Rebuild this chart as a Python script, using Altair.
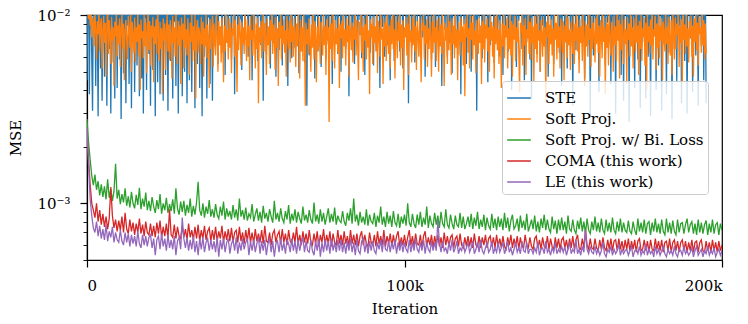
import altair as alt
import pandas as pd

# iteration step between logged points (x positions)
STEP_TOP = 250     # STE and Soft Proj. (801 points each)
STEP_LOW = 500     # the three lower curves (401 points each)

# MSE values, in units of 1e-4
ste = [45, 130, 150, 38, 118, 142, 60, 31, 125, 155, 110, 42, 137, 99, 29, 146, 120, 52, 134, 35,
       112, 158, 47, 128, 140, 33, 105, 151, 66, 122, 30, 139, 115, 56, 148, 36, 127, 160, 41, 109,
       143, 58, 124, 28, 135, 152, 49, 117, 138, 34, 129, 88, 156, 43, 113, 145, 32, 131, 72, 150,
       39, 121, 141, 54, 107, 157, 37, 133, 119, 46, 149, 30, 126, 96, 144, 40, 116, 153, 62, 132,
       33, 147, 111, 51, 138, 124, 29, 155, 103, 44, 136, 150, 38, 120, 78, 142, 35, 128, 159, 48,
       114, 139, 31, 146, 126, 57, 108, 154, 36, 132, 92, 147, 42, 118, 140, 30, 151, 123, 64, 135,
       37, 144, 110, 50, 158, 127, 34, 137, 101, 45, 149, 121, 39, 143, 82, 130, 32, 152, 116, 55,
       134, 148, 41, 125, 106, 29, 156, 138, 60, 119, 145, 36, 131, 97, 153, 43, 122, 141, 35, 128,
       150, 68, 137, 118, 146, 55, 129, 157, 102, 141, 63, 124, 153, 135, 48, 144, 116, 131, 72, 158,
       126, 139, 58, 147, 111, 155, 38, 133, 120, 149, 66, 128, 143, 95, 152, 51, 136, 122, 159, 74,
       140, 117, 148, 60, 132, 154, 107, 138, 45, 127, 151, 84, 145, 119, 134, 57, 156, 125, 142, 69,
       130, 150, 35, 139, 114, 147, 62, 123, 157, 99, 136, 52, 144, 129, 153, 71, 118, 141, 47, 155,
       127, 137, 65, 149, 110, 132, 54, 158, 121, 143, 76, 135, 152, 42, 126, 146, 90, 138, 59, 154,
       119, 140, 67, 131, 156, 104, 145, 49, 128, 150, 73, 137, 115, 155, 56, 142, 124, 33, 148, 133,
       61, 152, 118, 139, 80, 129, 157, 46, 144, 112, 134, 64, 151, 126, 141, 53, 136, 159, 98, 147,
       122, 58, 138, 154, 70, 125, 145, 108, 132, 43, 149, 120, 140, 77, 156, 130, 62, 143, 117, 151,
       50, 135, 148, 87, 128, 153, 66, 141, 116, 137, 37, 146, 124, 158, 72, 133, 150, 55, 139, 113,
       155, 68, 127, 144, 94, 136, 59, 152, 121, 147, 48, 131, 157, 79, 142, 118, 134, 63, 149, 126,
       140, 54, 156, 111, 138, 75, 145, 129, 153, 41, 135, 148, 86, 123, 158, 60, 143, 119, 132, 69,
       151, 127, 45, 139, 155, 100, 134, 57, 147, 122, 142, 74, 157, 130, 64, 145, 114, 136, 52, 153,
       125, 141, 81, 133, 150, 34, 146, 120, 138, 67, 156, 128, 144, 56, 131, 154, 92, 140, 117, 148,
       61, 137, 152, 76, 126, 159, 47, 143, 115, 135, 70, 150, 123, 146, 58, 132, 157, 103, 139, 53,
       149, 124, 141, 65, 155, 118, 136, 42, 147, 128, 153, 83, 134, 144, 60, 121, 158, 71, 138, 130,
       49, 151, 116, 142, 78, 133, 156, 62, 145, 125, 139, 38, 154, 119, 148, 89, 131, 150, 55, 137,
       143, 67, 128, 157, 50, 140, 122, 152, 73, 135, 147, 31, 126, 155, 96, 138, 116, 144, 59, 149,
       132, 81, 154, 120, 141, 44, 136, 158, 69, 127, 146, 104, 139, 56, 152, 124, 137, 75, 148, 117,
       60, 145, 133, 156, 48, 129, 142, 86, 153, 121, 138, 64, 150, 126, 144, 40, 135, 157, 77, 131,
       147, 53, 124, 151, 93, 140, 118, 155, 66, 134, 146, 45, 128, 153, 72, 139, 122, 149, 58, 143,
       36, 156, 120, 137, 80, 148, 131, 62, 154, 115, 141, 50, 133, 158, 88, 126, 145, 68, 150, 123,
       138, 47, 152, 129, 143, 74, 136, 157, 55, 125, 149, 99, 140, 119, 155, 63, 132, 146, 42, 153,
       127, 142, 71, 135, 159, 52, 144, 121, 150, 84, 130, 154, 33, 139, 117, 147, 65, 156, 128, 137,
       58, 148, 123, 141, 78, 152, 134, 46, 145, 126, 157, 69, 131, 143, 29, 151, 120, 138, 61, 155,
       132, 85, 147, 119, 140, 39, 153, 128, 136, 73, 158, 124, 144, 54, 133, 150, 91, 139, 116, 149,
       43, 137, 155, 67, 129, 146, 30, 142, 122, 152, 76, 135, 157, 48, 127, 148, 35, 141, 118, 154,
       64, 131, 145, 27, 150, 125, 139, 82, 156, 133, 41, 147, 120, 143, 58, 136, 153, 32, 128, 151,
       72, 140, 117, 155, 36, 134, 149, 60, 126, 144, 29, 152, 131, 138, 79, 157, 123, 40, 146, 135,
       54, 150, 129, 142, 31, 137, 156, 70, 121, 148, 38, 133, 154, 63, 141, 119, 152, 28, 145, 127,
       66, 155, 134, 44, 139, 151, 87, 130, 146, 34, 158, 124, 143, 57, 136, 149, 30, 140, 118, 153,
       75, 132, 147, 39, 155, 126, 141, 61, 150, 137, 33, 144, 120, 156, 68, 135, 148, 45, 129, 152,
       34]

soft_proj = [100, 108, 95, 112, 88, 104, 76, 97, 90, 68, 101, 85, 58, 93, 79, 106, 64, 89, 96, 52,
             84, 99, 71, 91, 47, 87, 110, 62, 94, 80, 55, 98, 73, 86, 42, 92, 77, 103, 60, 88,
             70, 96, 53, 85, 102, 66, 90, 45, 81, 94, 74, 58, 99, 83, 67, 107, 50, 92, 78, 63,
             97, 56, 86, 72, 104, 61, 89, 40, 95, 75, 82, 59, 100, 68, 91, 49, 84, 109, 65, 93,
             54, 88, 76, 98, 44, 87, 70, 95, 62, 113, 79, 57, 92, 66, 85, 38, 96, 73, 90, 51,
             83, 101, 64, 89, 58, 94, 77, 46, 99, 71, 86, 60, 105, 80, 55, 93, 69, 88, 43, 97,
             74, 90, 52, 102, 67, 84, 61, 96, 78, 48, 91, 72, 108, 57, 87, 65, 100, 36, 82, 94,
             63, 86, 79, 55, 98, 70, 92, 47, 85, 68, 103, 59, 89, 76, 41, 95, 66, 81, 99, 53,
             90, 73, 61, 106, 80, 50, 93, 69, 87, 56, 97, 75, 44, 88, 64, 111, 71, 84, 58, 96,
             67, 91, 49, 85, 78, 100, 60, 94, 72, 39, 89, 65, 98, 81, 54, 92, 70, 86, 62, 104,
             76, 57, 95, 68, 88, 45, 99, 74, 83, 61, 107, 79, 52, 90, 66, 97, 34, 86, 71, 93,
             59, 84, 102, 64, 91, 77, 48, 96, 69, 87, 55, 94, 73, 110, 62, 89, 80, 51, 98, 67,
             85, 42, 92, 75, 101, 58, 88, 70, 95, 63, 83, 47, 99, 78, 66, 93, 56, 105, 72, 87,
             60, 97, 81, 53, 90, 68, 103, 75, 46, 94, 64, 86, 57, 100, 79, 33, 91, 70, 84, 62,
             96, 74, 50, 89, 67, 108, 58, 93, 77, 44, 87, 65, 98, 71, 55, 92, 82, 61, 104, 69,
             88, 48, 95, 73, 86, 27, 99, 66, 90, 57, 102, 78, 52, 94, 70, 85, 63, 97, 41, 89,
             75, 93, 59, 106, 68, 84, 54, 96, 72, 88, 47, 100, 80, 65, 91, 56, 87, 74, 109, 61,
             94, 69, 45, 92, 78, 101, 63, 86, 50, 97, 73, 89, 58, 104, 67, 83, 38, 95, 76, 90,
             55, 98, 71, 87, 64, 107, 49, 93, 79, 60, 100, 74, 85, 43, 96, 68, 91, 57, 103, 77,
             62, 88, 52, 95, 70, 112, 66, 84, 46, 99, 81, 59, 92, 73, 105, 54, 89, 67, 94, 40,
             86, 76, 98, 61, 90, 48, 101, 72, 83, 56, 96, 69, 108, 64, 87, 51, 93, 79, 60, 97,
             74, 44, 91, 82, 103, 58, 88, 70, 95, 53, 85, 66, 99, 77, 47, 92, 63, 110, 71, 86,
             57, 94, 80, 50, 97, 68, 89, 62, 104, 75, 42, 91, 73, 86, 55, 100, 65, 93, 78, 48,
             96, 70, 88, 59, 106, 67, 84, 45, 92, 79, 61, 98, 72, 87, 54, 95, 37, 90, 76, 101,
             63, 85, 52, 99, 74, 91, 58, 108, 69, 83, 49, 94, 77, 62, 97, 71, 88, 43, 93, 66,
             102, 56, 89, 75, 96, 64, 86, 50, 100, 73, 92, 60, 87, 46, 98, 70, 111, 65, 84, 55,
             94, 78, 41, 90, 68, 103, 59, 88, 76, 97, 52, 85, 66, 107, 61, 93, 47, 89, 74, 99,
             57, 86, 72, 95, 63, 39, 91, 80, 101, 54, 88, 69, 96, 48, 84, 75, 105, 62, 92, 58,
             97, 71, 87, 44, 99, 66, 90, 56, 109, 73, 83, 50, 94, 79, 60, 98, 68, 86, 35, 92,
             76, 102, 55, 89, 70, 95, 61, 85, 47, 100, 74, 91, 58, 106, 67, 87, 52, 96, 78, 63,
             93, 45, 88, 72, 104, 59, 97, 69, 84, 51, 92, 77, 62, 99, 55, 90, 73, 110, 64, 86,
             49, 95, 71, 87, 57, 101, 76, 42, 93, 68, 89, 60, 105, 74, 85, 53, 98, 66, 91, 79,
             56, 96, 70, 112, 63, 88, 47, 94, 80, 59, 100, 72, 86, 38, 97, 67, 90, 54, 103, 75,
             61, 92, 83, 50, 99, 69, 87, 57, 107, 73, 94, 46, 89, 65, 101, 78, 55, 95, 70, 84,
             43, 98, 74, 90, 60, 104, 68, 86, 52, 96, 79, 63, 109, 71, 88, 48, 93, 66, 100, 57,
             85, 76, 97, 54, 91, 40, 102, 72, 87, 62, 95, 69, 106, 58, 84, 77, 99, 51, 90, 67,
             103, 59, 88, 73, 96, 45, 92, 80, 64, 108, 70, 86, 55, 98, 75, 61, 94, 48, 101, 83,
             58, 97, 66, 90, 78, 111, 53, 87, 71, 95, 44, 100, 74, 89, 62, 105, 68, 85, 56, 93,
             76, 99, 60, 88, 47, 96, 72, 104, 65, 91, 54, 98, 79, 86, 63, 107, 69, 94, 58, 90,
             62]

soft_proj_bi = [28, 21, 17, 14, 12.5, 14.2, 11.8, 13.1, 11.0, 12.6, 10.8, 12.3, 10.5, 13.4, 10.7, 11.9, 10.3, 11.6, 16.2, 10.6,
                11.8, 9.9, 11.2, 10.1, 12.0, 9.7, 10.9, 9.5, 11.5, 10.0, 9.4, 11.1, 9.8, 12.1, 9.3, 10.6, 9.6, 11.4, 9.2, 10.3,
                9.1, 10.8, 9.6, 8.9, 10.4, 9.3, 11.2, 8.8, 10.0, 9.2, 10.7, 8.9, 9.9, 9.1, 10.5, 8.8, 12.0, 9.4, 8.7, 10.2,
                9.0, 10.3, 8.6, 9.8, 8.9, 10.6, 8.5, 9.7, 8.7, 10.1, 13.0, 9.2, 8.6, 10.0, 8.4, 9.6, 8.8, 10.4, 8.5, 9.3,
                8.4, 9.9, 8.7, 8.3, 9.6, 8.6, 10.2, 8.2, 9.4, 8.5, 9.1, 8.2, 9.8, 8.4, 9.3, 8.1, 10.6, 8.5, 9.2, 8.2,
                9.5, 8.1, 8.8, 8.4, 9.9, 8.0, 8.7, 9.4, 8.1, 9.0, 7.9, 9.7, 8.3, 8.9, 8.0, 9.3, 8.5, 7.9, 10.3, 8.2,
                8.9, 8.0, 9.4, 8.3, 7.9, 9.1, 8.2, 9.8, 7.8, 8.8, 8.1, 9.3, 7.9, 9.0, 8.3, 7.8, 9.6, 8.1, 8.7, 7.9,
                9.2, 8.2, 7.8, 10.1, 8.0, 8.7, 7.8, 9.3, 8.0, 8.9, 7.7, 8.5, 9.4, 7.9, 8.8, 8.0, 9.5, 7.7, 8.6, 8.1,
                7.9, 9.1, 8.0, 7.6, 8.9, 8.1, 9.4, 7.8, 10.6, 8.0, 8.7, 7.6, 9.0, 7.9, 8.5, 7.7, 9.3, 7.6, 8.7, 8.0,
                7.8, 8.9, 7.5, 8.6, 7.9, 9.6, 7.7, 8.5, 7.5, 9.0, 7.8, 8.6, 7.5, 9.1, 7.9, 7.6, 8.8, 7.4, 8.5, 7.8,
                8.7, 7.6, 10.0, 7.9, 7.5, 8.8, 7.8, 7.4, 8.7, 7.7, 9.0, 7.5, 8.4, 7.7, 9.6, 7.4, 8.6, 7.8, 7.5, 8.9,
                7.7, 8.6, 7.4, 9.0, 7.8, 7.5, 9.3, 7.7, 7.4, 8.7, 7.8, 7.3, 8.6, 7.7, 7.5, 8.9, 7.4, 8.5, 7.3, 7.8,
                8.5, 7.5, 8.8, 7.3, 8.4, 7.6, 9.0, 7.3, 8.2, 7.5, 8.7, 7.2, 8.4, 7.6, 7.3, 8.8, 7.4, 8.3, 7.2, 8.5,
                7.5, 8.3, 7.2, 8.9, 7.4, 8.4, 7.1, 8.1, 8.7, 7.3, 7.6, 8.3, 7.1, 8.6, 7.4, 8.1, 7.2, 8.8, 7.1, 7.6,
                8.2, 7.3, 8.6, 7.1, 8.0, 7.0, 8.3, 7.4, 8.7, 7.2, 8.2, 7.3, 7.0, 8.5, 7.3, 8.1, 6.9, 8.2, 7.2, 8.4,
                7.2, 8.0, 6.9, 8.6, 7.3, 7.1, 8.2, 7.2, 6.9, 8.1, 7.3, 8.4, 7.1, 8.0, 6.9, 8.3, 7.2, 6.9, 8.0, 7.2,
                8.5, 7.1, 7.9, 7.0, 8.3, 7.2, 6.9, 8.2, 7.1, 7.9, 7.0, 8.4, 7.2, 6.9, 8.0, 7.1, 8.3, 7.0, 7.9, 7.2,
                7.0, 8.1, 7.1, 6.9, 8.0, 7.2, 6.8, 8.3, 7.1, 7.9, 7.0, 8.2, 6.9, 7.8, 8.0, 6.8, 7.9, 7.1, 8.3, 7.0,
                7.8, 6.9, 8.2, 7.1, 6.8, 8.3, 7.0, 7.9, 6.9, 8.1, 7.1, 6.8, 8.2, 7.0, 7.8, 7.9, 6.9, 7.7, 8.3, 7.0,
                7.7, 8.0, 6.9, 7.8, 6.8, 8.2, 7.0, 7.9, 6.9, 7.7, 8.1, 6.8, 7.8, 7.0, 8.2, 6.9, 7.7, 7.9, 6.8, 7.8,
                7.2]

coma = [24, 17, 12.5, 10, 9.2, 8.4, 10.0, 8.0, 9.2, 7.7, 8.8, 7.5, 8.5, 7.3, 8.3, 12.2, 8.6, 7.4, 8.2, 7.1,
        8.1, 7.2, 8.5, 7.0, 8.9, 7.3, 6.9, 8.2, 7.1, 7.9, 6.8, 7.8, 7.0, 8.3, 6.9, 7.7, 6.7, 8.0, 7.0, 6.8,
        7.8, 6.7, 7.6, 6.6, 7.9, 6.9, 8.1, 6.6, 7.5, 6.7, 7.8, 6.5, 9.3, 6.8, 6.6, 7.7, 6.5, 7.5, 6.7, 6.5,
        7.6, 6.6, 7.3, 6.4, 7.8, 6.6, 7.2, 6.4, 7.5, 6.5, 7.7, 6.3, 7.2, 6.5, 7.6, 6.4, 7.1, 7.4, 6.3, 7.2,
        6.4, 7.5, 6.3, 7.1, 6.5, 7.6, 6.2, 7.1, 6.4, 7.3, 6.3, 7.4, 6.2, 7.0, 7.2, 6.2, 7.5, 6.3, 7.0, 6.1,
        7.2, 6.3, 7.4, 6.2, 7.0, 6.1, 7.3, 6.3, 6.9, 6.2, 7.2, 6.1, 7.6, 6.3, 6.2, 7.0, 6.0, 6.9, 7.2, 6.2,
        6.8, 7.1, 6.1, 7.3, 6.2, 6.9, 6.0, 7.2, 6.3, 6.1, 7.0, 6.2, 7.5, 6.1, 6.8, 6.0, 7.1, 6.2, 6.9, 6.1,
        7.2, 6.2, 6.0, 6.9, 6.1, 7.1, 5.9, 6.8, 6.2, 7.3, 6.0, 6.8, 6.1, 7.1, 5.9, 6.9, 6.2, 6.0, 7.2, 6.1,
        6.8, 6.0, 7.1, 6.1, 6.7, 5.9, 7.2, 6.1, 6.8, 6.0, 6.9, 5.9, 6.7, 7.1, 6.0, 6.8, 6.1, 5.9, 7.0, 6.2,
        6.0, 6.8, 5.9, 7.1, 6.1, 6.7, 6.0, 7.2, 5.9, 6.7, 6.1, 6.9, 5.9, 6.8, 6.0, 6.7, 7.1, 5.9, 6.6, 6.0,
        6.8, 5.9, 6.6, 7.2, 6.0, 6.7, 5.9, 6.9, 6.1, 6.0, 6.8, 5.8, 6.7, 7.1, 5.9, 6.6, 6.0, 6.8, 5.8, 6.7,
        6.0, 6.8, 5.9, 6.6, 5.8, 7.0, 6.0, 6.7, 5.9, 6.6, 6.8, 5.8, 6.5, 6.7, 5.9, 6.9, 6.0, 5.8, 6.6, 5.9,
        6.7, 5.9, 6.6, 5.8, 6.9, 6.0, 5.9, 6.7, 5.8, 6.6, 6.0, 6.8, 5.8, 6.5, 6.7, 5.9, 6.6, 5.8, 6.8, 5.9,
        6.5, 5.8, 6.7, 5.9, 5.7, 6.6, 6.0, 6.8, 5.8, 6.5, 5.9, 6.7, 5.7, 6.6, 5.9, 5.8, 6.8, 6.0, 5.8, 6.6,
        5.9, 5.7, 6.5, 6.7, 5.8, 6.4, 5.7, 6.6, 5.9, 5.8, 6.7, 5.7, 6.5, 5.9, 5.7, 6.6, 5.8, 6.5, 5.7, 6.4,
        6.6, 5.8, 6.4, 5.7, 6.5, 5.8, 6.7, 5.7, 6.4, 6.8, 5.8, 5.7, 6.5, 5.8, 7.2, 6.0, 5.7, 6.5, 5.8, 5.7,
        6.5, 5.8, 5.6, 6.4, 5.7, 6.6, 5.8, 5.6, 6.4, 5.7, 6.5, 5.6, 6.3, 6.4, 5.6, 6.5, 5.7, 6.3, 5.6, 6.4,
        5.7, 6.5, 5.6, 6.3, 5.7, 6.4, 5.5, 6.3, 6.5, 5.6, 5.7, 6.4, 5.6, 6.3, 5.5, 6.4, 5.7, 5.6, 6.5, 5.7,
        6.3, 5.6, 6.4, 5.5, 6.2, 6.3, 5.6, 6.5, 5.5, 6.2, 6.4, 5.6, 6.3, 5.5, 6.2, 6.4, 5.6, 6.3, 5.5, 6.2,
        5.6, 6.4, 5.5, 6.2, 6.3, 5.5, 6.2, 6.4, 5.6, 5.5, 6.3, 5.6, 6.2, 5.5, 6.4, 5.6, 6.2, 5.5, 6.3, 5.6,
        6.0]

le = [25, 16, 10.5, 8.6, 7.4, 7.0, 8.0, 6.7, 7.6, 6.5, 7.3, 6.4, 7.7, 6.3, 7.1, 6.6, 7.5, 6.2, 7.0, 6.4,
      6.2, 7.2, 6.3, 6.0, 7.0, 6.2, 6.9, 5.9, 6.8, 6.1, 6.7, 5.9, 7.1, 6.1, 5.8, 6.8, 6.0, 6.7, 5.9, 6.6,
      6.8, 5.8, 6.5, 5.3, 6.4, 6.7, 5.7, 6.9, 5.9, 6.5, 5.6, 6.8, 5.8, 6.4, 5.7, 6.7, 5.3, 6.3, 6.6, 5.7,
      8.4, 6.5, 5.8, 6.6, 5.6, 6.4, 5.7, 6.7, 5.5, 6.3, 5.3, 6.5, 5.7, 6.6, 5.5, 6.2, 6.5, 5.6, 6.4, 5.7,
      6.3, 5.5, 6.6, 5.2, 6.4, 5.7, 6.5, 5.5, 6.2, 6.5, 5.4, 6.1, 6.4, 5.6, 6.6, 5.4, 6.2, 5.6, 6.5, 5.7,
      6.2, 6.5, 5.3, 6.3, 5.6, 6.4, 5.5, 6.1, 6.6, 5.4, 6.3, 5.6, 6.4, 5.3, 6.1, 6.5, 5.5, 6.3, 5.2, 6.1,
      6.3, 5.5, 6.5, 5.6, 6.2, 5.4, 6.4, 6.1, 5.5, 6.5, 5.6, 6.3, 5.4, 6.4, 5.6, 6.2, 6.6, 5.5, 6.3, 5.6,
      5.5, 6.4, 5.6, 5.3, 6.3, 5.6, 6.5, 5.2, 6.2, 5.5, 6.4, 5.6, 6.3, 5.4, 6.5, 5.6, 6.2, 5.5, 6.4, 5.6,
      6.4, 5.5, 6.2, 5.4, 6.3, 5.6, 6.5, 5.5, 6.2, 5.3, 6.4, 5.6, 5.4, 6.3, 6.5, 5.5, 6.2, 5.4, 6.3, 5.6,
      6.3, 5.6, 5.4, 6.2, 5.7, 6.4, 5.5, 6.6, 5.7, 5.6, 6.3, 5.5, 6.2, 5.7, 6.4, 5.4, 6.2, 5.6, 6.3, 5.5,
      6.2, 5.7, 5.5, 6.4, 5.5, 6.2, 5.6, 6.5, 5.7, 5.5, 6.2, 5.6, 6.4, 5.4, 6.2, 5.7, 5.5, 6.3, 5.6, 6.2,
      5.6, 8.1, 6.2, 5.5, 6.3, 5.6, 5.8, 5.4, 6.2, 5.6, 6.4, 5.5, 5.8, 6.3, 5.4, 5.8, 5.6, 6.2, 5.5, 5.8,
      6.2, 5.5, 5.8, 6.3, 5.4, 5.7, 6.2, 5.5, 6.4, 5.6, 5.4, 5.8, 6.2, 5.5, 5.7, 6.3, 5.4, 5.8, 5.5, 6.2,
      5.5, 5.8, 6.2, 5.4, 5.7, 6.3, 5.5, 5.8, 5.3, 5.7, 6.2, 5.5, 5.8, 5.4, 6.3, 5.6, 5.5, 6.2, 5.4, 5.7,
      5.7, 5.4, 5.8, 5.5, 6.2, 5.3, 5.7, 5.8, 5.4, 6.3, 5.5, 5.7, 5.3, 5.8, 5.5, 6.2, 5.4, 5.7, 5.5, 5.9,
      5.5, 5.9, 5.3, 5.7, 6.2, 5.4, 5.7, 5.5, 6.4, 5.4, 5.7, 5.3, 5.9, 5.5, 7.2, 5.7, 5.4, 5.9, 5.5, 5.4,
      5.9, 5.4, 5.7, 5.3, 5.6, 6.2, 5.4, 5.2, 5.7, 5.5, 5.9, 5.3, 5.7, 5.4, 5.6, 6.1, 5.3, 5.7, 5.4, 5.6,
      5.7, 5.3, 5.6, 5.9, 5.2, 5.6, 5.7, 5.4, 5.9, 5.3, 5.6, 5.4, 6.1, 5.3, 5.7, 5.4, 5.6, 5.2, 5.9, 5.4,
      5.7, 5.3, 5.6, 5.9, 5.4, 5.2, 5.7, 5.4, 5.6, 5.3, 5.9, 5.4, 5.2, 5.7, 5.6, 5.3, 5.9, 5.4, 5.6, 5.3,
      5.5, 5.8, 5.2, 5.6, 5.9, 5.3, 5.5, 5.7, 5.2, 5.6, 5.4, 5.9, 5.3, 5.6, 5.4, 5.8, 5.2, 5.5, 5.7, 5.3,
      5.6]

UNIT = 1e-4
names = ["STE", "Soft Proj.", "Soft Proj. w/ Bi. Loss", "COMA (this work)", "LE (this work)"]
colors = ["#1f77b4", "#ff7f0e", "#2ca02c", "#d62728", "#9467bd"]
series = [ste, soft_proj, soft_proj_bi, coma, le]
steps = [STEP_TOP, STEP_TOP, STEP_LOW, STEP_LOW, STEP_LOW]

x_ticks = [0, 100000, 200000]
y_ticks = [5e-4, 6e-4, 7e-4, 8e-4, 9e-4, 1e-3, 2e-3, 3e-3, 4e-3, 5e-3, 6e-3, 7e-3, 8e-3, 9e-3, 1e-2]

rows = []
for name, vals, step in zip(names, series, steps):
    for i, v in enumerate(vals):
        rows.append({"iteration": i * step, "mse": v * UNIT, "method": name})
df = pd.DataFrame(rows)

FONT = "DejaVu Serif, Liberation Serif, serif"
FS = 15
is_major = "abs(log(datum.value)/LN10 - round(log(datum.value)/LN10)) < 0.001"

chart = alt.Chart(df).mark_line(clip=True, strokeWidth=1.3).encode(
    x=alt.X(
        "iteration:Q",
        scale=alt.Scale(domain=[0, 200000], nice=False, zero=False),
        axis=alt.Axis(
            values=x_ticks,
            labelExpr="datum.value == 0 ? '0' : format(datum.value/1000, 'd') + 'k'",
            title="Iteration",
            grid=False,
            tickSize=7,
            tickWidth=1.2,
            labelPadding=11,
            titlePadding=8,
        ),
    ),
    y=alt.Y(
        "mse:Q",
        scale=alt.Scale(type="log", domain=[5e-4, 1e-2], nice=False),
        axis=alt.Axis(
            values=y_ticks,
            labelExpr=is_major + " ? ('10' + (round(log(datum.value)/LN10) == -2 ? '\u207b\u00b2' : '\u207b\u00b3')) : ''",
            title="MSE",
            grid=False,
            tickSize={"condition": {"test": is_major, "value": 7}, "value": 4},
            tickWidth={"condition": {"test": is_major, "value": 1.2}, "value": 0.9},
            labelPadding=10,
            titlePadding=13,
            labelOverlap=False,
        ),
    ),
    color=alt.Color(
        "method:N",
        scale=alt.Scale(domain=names, range=colors),
        sort=names,
        legend=alt.Legend(
            title=None,
            orient="none",
            legendX=415,
            legendY=66,
            symbolType="stroke",
            symbolSize=560,
            symbolStrokeWidth=1.5,
            labelFontSize=FS,
            labelFont=FONT,
            labelColor="black",
            rowPadding=0,
            padding=4,
            fillColor="rgba(255,255,255,0.8)",
            strokeColor="#cccccc",
            cornerRadius=3,
            labelOffset=13,
        ),
    ),
).properties(
    width=635,
    height=245,
    padding={"left": 79, "top": 7, "right": 18, "bottom": 56},
    autosize=alt.AutoSizeParams(type="none"),
).configure_axis(
    labelFont=FONT,
    titleFont=FONT,
    labelFontSize=FS,
    titleFontSize=FS,
    titleFontWeight="normal",
    labelColor="black",
    titleColor="black",
    domainColor="black",
    domainWidth=1.2,
    tickColor="black",
).configure_view(
    stroke="black",
    strokeWidth=1.2,
)

chart.save("out.html", embed_options={"renderer": "svg", "actions": False})
